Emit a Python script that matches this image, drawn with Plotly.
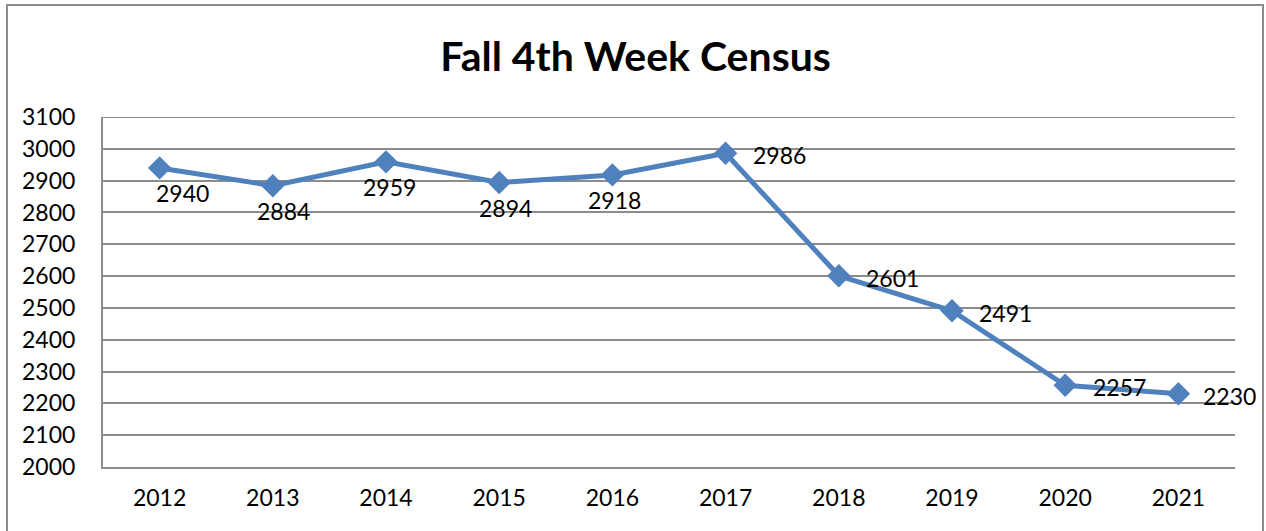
import plotly.graph_objects as go

years = ["2012", "2013", "2014", "2015", "2016", "2017", "2018", "2019", "2020", "2021"]
census = [2940, 2884, 2959, 2894, 2918, 2986, 2601, 2491, 2257, 2230]
title_text = "Fall 4th Week Census"
y_ticks = list(range(2000, 3101, 100))

# label placement style (Excel data labels: below for first five, right for rest)
label_below = [True, True, True, True, True, False, False, False, False, False]
label_dx = [23, 11, 3, 6, 2, 25, 25, 25, 26, 23]

BLUE = "#4F81BD"
GRID = "#8C8C8C"
FONT = "Lato, 'Open Sans', sans-serif"
FS = 23

fig = go.Figure()
fig.add_trace(go.Scatter(
    x=years, y=census, mode="lines+markers",
    line=dict(color=BLUE, width=5),
    marker=dict(symbol="diamond", size=18, color=BLUE),
    hoverinfo="skip", showlegend=False,
))

for i, (v, below, dx) in enumerate(zip(census, label_below, label_dx)):
    if below:
        fig.add_annotation(x=i, y=v, text=str(v), showarrow=False,
                           xanchor="center", yanchor="middle",
                           xshift=dx, yshift=-25,
                           font=dict(family=FONT, size=FS, color="#000000"))
    else:
        fig.add_annotation(x=i, y=v, text=str(v), showarrow=False,
                           xanchor="left", yanchor="middle",
                           xshift=dx, yshift=-2,
                           font=dict(family=FONT, size=FS, color="#000000"))

# outer chart border
W, H = 1266, 531
ml, mr, mt, mb = 103, 31, 117, 64
pw, ph = W - ml - mr, H - mt - mb
fig.add_shape(type="rect", xref="paper", yref="paper",
              x0=(7 - ml) / pw, x1=(1263 - ml) / pw,
              y0=(H - mb - 545) / ph, y1=(H - mb - 5) / ph,
              line=dict(color="#8C8C8C", width=2), fillcolor="rgba(0,0,0,0)",
              layer="below")

fig.update_layout(
    width=W, height=H,
    margin=dict(l=ml, r=mr, t=mt, b=mb),
    paper_bgcolor="white", plot_bgcolor="white",
    title=dict(text="<b>" + title_text + "</b>", x=0.502, xref="container",
               y=1 - 57 / H, yref="container", xanchor="center", yanchor="middle",
               font=dict(family=FONT, size=41, color="#000000")),
    font=dict(family=FONT, size=FS, color="#000000"),
)
fig.update_xaxes(type="category", range=[-0.5, 9.5], showgrid=False,
                 showline=True, linecolor=GRID, linewidth=2,
                 ticks="", ticklabelstandoff=9,
                 tickfont=dict(family=FONT, size=FS, color="#000000"))
fig.update_yaxes(range=[2000, 3100], tickvals=y_ticks, showgrid=True,
                 gridcolor=GRID, gridwidth=2, zeroline=False,
                 showline=True, linecolor=GRID, linewidth=2,
                 ticks="", ticklabelstandoff=21,
                 tickfont=dict(family=FONT, size=FS, color="#000000"))
fig.add_shape(type="line", xref="paper", yref="y", x0=0, x1=1, y0=3100, y1=3100,
              line=dict(color=GRID, width=2), layer="below")

fig.write_html("out.html", config={"displayModeBar": False},
               post_script="document.body.style.margin='0';document.body.style.overflow='hidden';")
